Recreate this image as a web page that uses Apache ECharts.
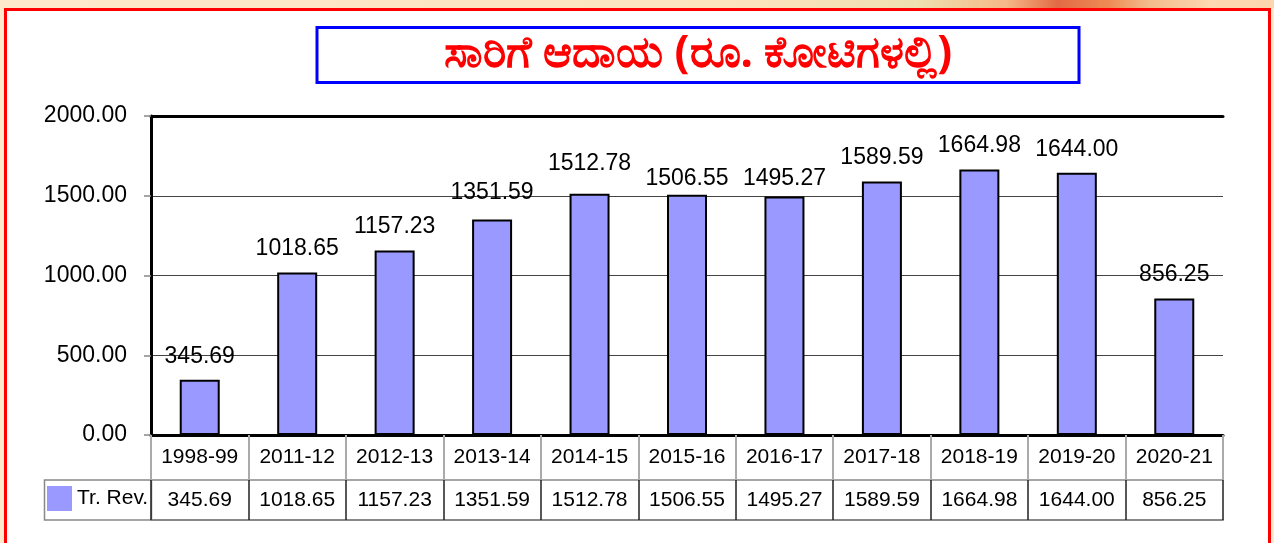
<!DOCTYPE html>
<html>
<head>
<meta charset="utf-8">
<script src="https://cdn.jsdelivr.net/npm/echarts@6/dist/echarts.min.js"></script>
<style>
  html, body { margin: 0; padding: 0; background: #fde9cc; }
  #chart { width: 1274px; height: 543px; }
</style>
</head>
<body>
<div id="chart"></div>
<script>
// data
const years = ['1998-99', '2011-12', '2012-13', '2013-14', '2014-15', '2015-16',
               '2016-17', '2017-18', '2018-19', '2019-20', '2020-21']
const revenue = [345.69, 1018.65, 1157.23, 1351.59, 1512.78, 1506.55,
                 1495.27, 1589.59, 1664.98, 1644.00, 856.25]
const seriesName = 'Tr. Rev.'
const titleText = 'ಸಾರಿಗೆ ಆದಾಯ (ರೂ. ಕೋಟಿಗಳಲ್ಲಿ)'

const font = "'Liberation Sans', Arial, sans-serif"

// the original places a few value labels a bit higher / lower than the rest
const labelGap = 12
const labelNudge = { 3: 3, 4: 7, 5: -7, 6: -6 }

const chart = echarts.init(document.getElementById('chart'), null, { renderer: 'canvas' })

// plain table axes share the same categories, they only draw lines / labels
const tableAxis = (offset, extra) => Object.assign({
    type: 'category',
    data: years,
    position: 'bottom',
    offset: offset,
    axisLine: { show: true, lineStyle: { color: '#888', width: 1.5 } },
    axisTick: { show: false },
    axisLabel: { show: false },
    splitLine: { show: false },
}, extra)

const barData = revenue.map((v, i) => ({
    value: v,
    label: { distance: labelGap + (labelNudge[i] || 0) },
}))

const options = {
    backgroundColor: '#fde9cc',
    animation: false,
    title: {
        text: titleText,
        left: 698,
        top: 32,
        textAlign: 'center',
        padding: 0,
        textStyle: {
            color: '#ff0000',
            fontSize: 44,
            fontWeight: 'bold',
            fontFamily: "'Noto Sans', " + font,
        },
    },
    legend: {
        left: 47,
        top: 486,
        padding: 0,
        itemWidth: 25,
        itemHeight: 25,
        icon: 'rect',
        itemStyle: { borderWidth: 0 },
        textStyle: { fontSize: 21, color: '#000', fontFamily: font },
        data: [seriesName],
    },
    graphic: [
        {   // top strip
            type: 'rect', shape: { x: 0, y: 0, width: 1274, height: 8 }, silent: true,
            style: {
                fill: new echarts.graphic.LinearGradient(0, 0, 1, 0, [
                    { offset: 0, color: '#fde9cc' },
                    { offset: 0.6, color: '#fbe3bd' },
                    { offset: 0.72, color: '#eee0b0' },
                    { offset: 0.79, color: '#f6b888' },
                    { offset: 0.83, color: '#e26a45' },
                    { offset: 0.87, color: '#ee8b55' },
                    { offset: 0.9, color: '#f3b98a' },
                    { offset: 0.95, color: '#fdd8b0' },
                    { offset: 1, color: '#fbd6ae' },
                ]),
            },
        },
        {   // red frame
            type: 'rect', shape: { x: 5.5, y: 9.5, width: 1264, height: 620 }, silent: true,
            style: { fill: '#fff', stroke: '#ff0000', lineWidth: 3 },
        },
        {   // title box
            type: 'rect', shape: { x: 317, y: 27.5, width: 762, height: 55 }, silent: true,
            style: { fill: 'none', stroke: '#0000ff', lineWidth: 3 },
        },
        {   // legend cell of the data table
            type: 'rect', shape: { x: 44.5, y: 480, width: 107, height: 40 }, silent: true,
            style: { fill: 'none', stroke: '#888', lineWidth: 1.5 },
        },
    ],
    grid: {
        show: true,
        left: 151,
        right: 51,
        top: 116,
        bottom: 108,
        borderColor: '#999',
        borderWidth: 2,
    },
    xAxis: [
        {
            type: 'category',
            data: years,
            position: 'bottom',
            axisLine: { show: true, lineStyle: { color: '#000', width: 3 } },
            axisTick: { show: true, interval: 0, length: 45, lineStyle: { color: '#aaa', width: 2 } },
            axisLabel: { interval: 0, fontSize: 21, color: '#000', fontFamily: font, margin: 12 },
            splitLine: { show: false },
        },
        tableAxis(45, {
            axisTick: { show: true, interval: 0, length: 40, lineStyle: { color: '#222', width: 1.5 } },
            axisLabel: {
                show: true, interval: 0, fontSize: 21, color: '#000', fontFamily: font, margin: 10,
                formatter: (v, i) => revenue[i].toFixed(2),
            },
        }),
        tableAxis(85, { axisLine: { show: true, lineStyle: { color: '#888', width: 2 } } }),
        {
            type: 'category',
            data: years,
            position: 'top',
            axisLine: { show: true, lineStyle: { color: '#000', width: 3 } },
            axisTick: { show: false },
            axisLabel: { show: false },
        },
    ],
    yAxis: {
        type: 'value',
        min: 0,
        max: 2000,
        interval: 500,
        axisLine: { show: true, lineStyle: { color: '#000', width: 3 } },
        axisTick: { show: true, length: 7, lineStyle: { color: '#888', width: 1.5 } },
        axisLabel: {
            fontSize: 23, color: '#000', fontFamily: font, margin: 24,
            formatter: (v) => v.toFixed(2),
        },
        splitLine: { show: true, lineStyle: { color: '#444', width: 1 } },
    },
    series: [
        {
            name: seriesName,
            type: 'bar',
            xAxisIndex: 0,
            data: barData,
            barWidth: 40,
            itemStyle: { color: '#9999ff', borderColor: '#000', borderWidth: 2 },
            label: {
                show: true,
                position: 'top',
                fontSize: 23,
                color: '#000',
                fontFamily: font,
                formatter: (p) => p.value.toFixed(2),
            },
        },
    ],
}

chart.setOption(options)
</script>
</body>
</html>
